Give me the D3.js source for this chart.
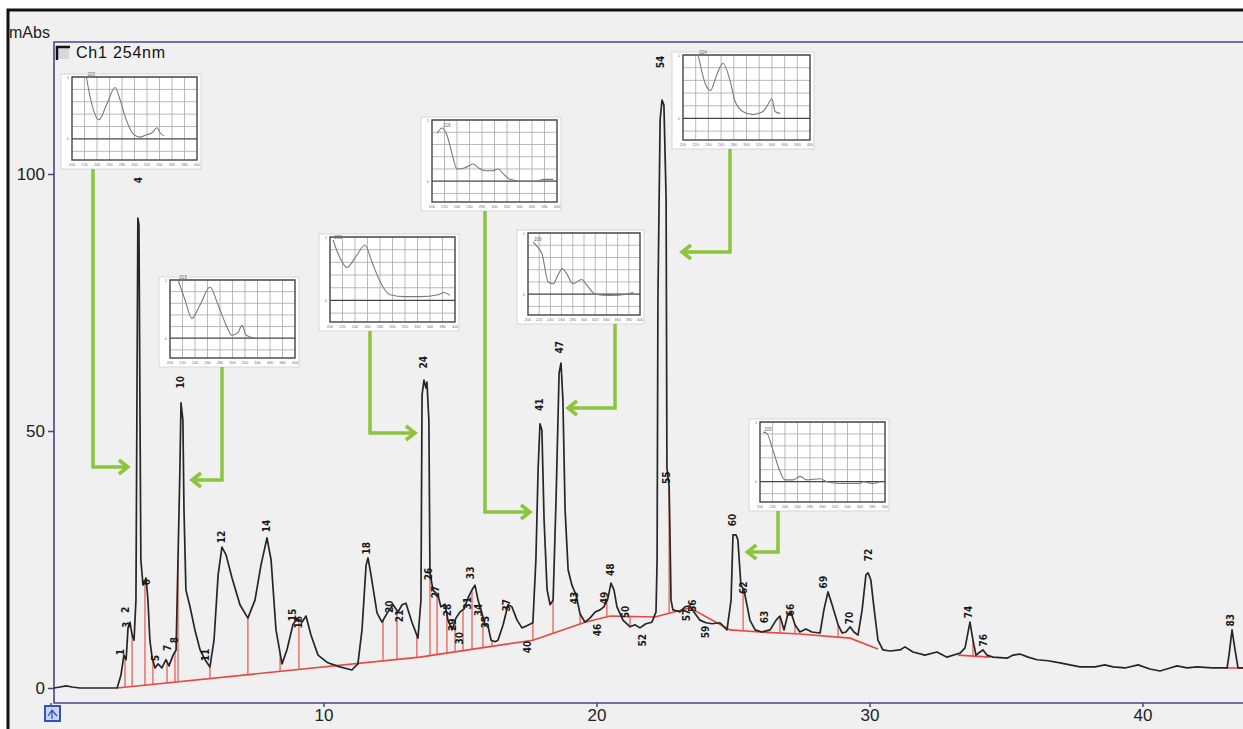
<!DOCTYPE html>
<html>
<head>
<meta charset="utf-8">
<script src="https://cdn.jsdelivr.net/npm/d3@7"></script>
<style>
  html, body { margin: 0; padding: 0; background: #fff; }
  svg { display: block; }
</style>
</head>
<body>
<div id="chart"></div>
<script>
// chromatogram, Ch1 254nm : [retention time (min), absorbance (mAbs)]
const trace = [
  [0.13,0],[0.35,0.2],[0.57,0.4],[0.79,0.2],[1.08,0],[1.81,0],[2.44,0],
  [2.58,2.5],[2.69,6.4],[2.77,5.5],[2.84,11.7],[2.91,12.8],[2.99,10.3],[3.06,9.3],[3.13,17.1],[3.20,91.4],[3.24,90.1],[3.28,52.1],[3.31,24.9],[3.39,20.0],[3.50,21.4],[3.57,17.1],[3.64,9.3],[3.72,6.0],[3.83,3.9],[3.94,4.7],[4.08,3.9],[4.23,5.5],[4.34,4.3],[4.49,6.4],[4.60,7.4],[4.67,24.9],[4.74,42.4],[4.78,55.5],[4.85,52.1],[4.89,34.6],[4.96,19.1],[5.11,15.8],[5.29,11.3],[5.48,7.4],[5.66,5.5],[5.84,4.1],
  [5.99,9.3],[6.14,22.0],[6.28,27.4],[6.43,25.9],[6.65,21.4],[6.94,16.2],[7.23,13.6],[7.49,17.1],[7.71,23.9],[7.93,29.2],[8.08,24.9],[8.26,11.3],[8.48,4.7],[8.66,7.4],[8.88,12.3],[9.03,13.6],[9.21,12.8],[9.36,14.0],[9.54,10.3],[9.80,6.4],[10.16,4.9],[10.60,4.1],[11.04,3.5],[11.26,4.7],[11.41,11.3],[11.56,23.9],[11.63,25.3],[11.74,22.0],[11.96,14.6],[12.14,12.8],[12.36,14.8],[12.55,16.2],[12.73,14.8],[12.88,16.2],[13.02,16.5],[13.24,12.8],[13.46,9.7],
  [13.57,17.1],[13.61,57.0],[13.68,59.9],[13.75,58.4],[13.79,59.5],[13.86,52.1],[13.90,22.4],[14.01,19.1],[14.19,18.1],[14.30,15.8],[14.45,16.3],[14.56,13.2],[14.71,11.3],[14.85,13.6],[15.00,14.8],[15.15,15.4],[15.29,17.5],[15.44,19.1],[15.55,20.0],[15.66,17.1],[15.77,15.2],[15.92,12.3],[16.03,11.9],[16.14,9.3],[16.28,9.0],[16.39,9.3],[16.58,12.3],[16.76,16.2],[16.90,15.8],[17.09,13.2],[17.27,11.7],[17.45,12.1],[17.67,12.7],
  [17.78,24.9],[17.86,42.4],[17.93,51.4],[18.00,50.2],[18.08,32.7],[18.19,19.1],[18.30,16.2],[18.41,17.1],[18.52,37.0],[18.63,61.3],[18.70,63.2],[18.77,56.0],[18.85,34.6],[18.96,23.0],[19.10,20.0],[19.25,18.1],[19.40,14.4],[19.58,12.8],[19.76,13.6],[19.95,14.8],[20.13,15.2],[20.27,15.8],[20.42,17.5],[20.53,20.4],[20.64,19.1],[20.75,15.8],[20.97,13.2],[21.23,11.9],[21.41,12.3],[21.59,11.7],[21.81,12.5],[22.03,12.8],[22.18,14.8],
  [22.22,24.9],[22.25,75.5],[22.33,110.5],[22.40,114.4],[22.47,113.4],[22.55,95.3],[22.58,42.8],[22.66,39.3],[22.69,30.4],[22.73,17.1],[22.80,15.2],[23.06,14.8],[23.24,15.8],[23.42,16.0],[23.57,14.8],[23.79,13.2],[24.01,12.7],[24.23,12.5],[24.52,12.7],[24.78,11.3],[24.93,17.1],[25.00,29.8],[25.11,29.8],[25.18,28.8],[25.29,20.0],[25.40,19.1],[25.51,16.2],[25.62,13.2],[25.81,11.3],[26.06,10.9],[26.36,11.3],[26.58,13.2],[26.72,14.0],[26.87,11.3],[27.01,14.4],[27.12,14.8],[27.27,12.3],[27.45,10.9],[27.67,11.5],[27.89,10.9],[28.19,10.7],[28.33,15.2],[28.48,18.7],[28.63,16.2],[28.85,12.3],[29.00,10.7],[29.14,10.9],[29.29,11.9],[29.43,10.9],[29.58,10.3],[29.73,15.2],[29.87,22.0],[29.95,22.4],[30.05,21.0],[30.16,15.8],[30.31,9.3],[30.49,7.4],
  [30.75,7.2],[31.12,7.4],[31.30,8.0],[31.59,7.0],[32.03,6.4],[32.47,7.0],[32.84,6.0],[33.32,6.8],[33.50,7.8],[33.68,12.8],[33.79,9.3],[33.90,6.4],[34.05,7.0],[34.16,7.4],[34.30,6.4],[34.52,6.0],[35.04,5.8],[35.26,6.4],[35.51,6.6],[35.81,6.0],[36.14,5.5],[36.54,5.3],[36.98,4.9],[37.34,4.5],[37.71,4.1],[38.26,4.1],[38.62,4.5],[38.92,4.1],[39.36,3.9],[39.84,4.5],[40.27,3.7],[40.64,3.3],[41.01,3.9],[41.26,4.3],[41.63,3.9],[42.00,4.1],[42.55,3.9],[43.10,3.9],[43.17,6.4],[43.28,11.3],[43.39,7.4],[43.50,3.9],[43.68,3.9]
];

// integration baselines (red)
const baselines = [
  [[2.44,0],[13.53,6.0],[17.67,9.3],[19.58,12.8],[20.50,14.0],[22.14,13.8],[23.42,15.6],[24.89,11.3],[25.99,10.9],[27.45,10.5],[29.29,9.7],[30.31,7.6]],
  [[33.24,6.4],[34.41,6.0]],
  [[43.02,3.9],[43.68,3.9]]
];

// peak split (drop) times
const dropTimes = [2.73, 2.99, 3.46, 3.75, 4.27, 4.56, 4.67, 5.84, 7.23, 8.41, 9.10, 12.18, 12.69, 13.42, 13.90, 14.16, 14.52, 14.82, 15.11, 15.44, 15.84, 16.17, 17.67, 18.41, 19.40, 20.38, 21.23, 22.66, 25.37, 26.72, 27.27, 28.85, 33.79];

// peak numbers : [label, time, mAbs where the label sits]
const peakLabels = [
  ['1',2.55,7.0],['2',2.73,15.2],['3',2.77,12.3],['4',3.21,98.8],['6',3.53,20.6],['5',3.83,5.8],['7',4.30,7.8],['8',4.56,9.3],
  ['10',4.78,59.5],['11',5.66,6.4],['12',6.28,29.4],['14',7.93,31.5],['15',8.88,14.2],['16',9.07,12.8],['18',11.56,27.2],
  ['20',12.43,15.8],['21',12.80,14.0],['24',13.68,63.4],['26',13.83,22.2],['27',14.12,18.7],['28',14.56,15.2],['29',14.71,12.3],
  ['30',15.0,9.7],['31',15.26,16.5],['33',15.40,22.4],['34',15.66,15.2],['35',15.92,12.8],['37',16.72,16.1],['40',17.49,8.0],
  ['41',17.93,55.1],['47',18.66,66.3],['43',19.18,17.5],['46',20.02,11.3],['49',20.28,17.5],['48',20.53,23.0],['50',21.08,14.8],
  ['52',21.70,9.3],['54',22.36,121.8],['55',22.55,40.9],['57',23.28,14.2],['56',23.50,16.0],['59',24.01,10.9],['60',25.0,32.7],
  ['62',25.40,19.5],['63',26.14,13.8],['66',27.12,15.2],['69',28.33,20.6],['70',29.25,13.6],['72',29.95,25.9],
  ['74',33.61,14.8],['76',34.16,9.3],['83',43.21,13.2]
];

const xTicks = [0, 10, 20, 30, 40];
const yTicks = [0, 50, 100];

// UV spectra of the marked peaks : [wavelength (nm), relative abs]
const spec4  = [[223,1.0],[229,0.68],[243,0.31],[256,0.57],[269,0.83],[277,0.63],[285,0.36],[299,0.07],[309,0.03],[320,0.07],[328,0.10],[336,0.18],[341,0.10],[347,0.05]];
const spec10 = [[213,1.0],[224,0.66],[235,0.34],[248,0.57],[264,0.88],[277,0.57],[290,0.22],[299,0.05],[309,0.10],[315,0.22],[322,0.05],[336,0.0]];
const spec24 = [[205,0.95],[216,0.67],[227,0.52],[242,0.70],[256,0.875],[267,0.61],[280,0.30],[296,0.09],[320,0.06],[344,0.06],[373,0.09],[382,0.125],[392,0.08]];
const spec41 = [[208,0.78],[216,0.87],[224,0.75],[232,0.45],[240,0.20],[253,0.22],[266,0.28],[274,0.22],[285,0.17],[296,0.17],[306,0.20],[314,0.12],[325,0.03],[341,0.0],[368,0.0],[378,0.03],[394,0.03]];
const spec47 = [[209,0.85],[218,0.76],[225,0.66],[236,0.20],[245,0.17],[254,0.32],[261,0.42],[270,0.32],[280,0.17],[296,0.24],[305,0.15],[320,0.0],[346,-0.02],[377,0.0],[388,0.03]];
const spec54 = [[224,1.0],[235,0.55],[243,0.44],[254,0.71],[263,0.87],[274,0.60],[282,0.27],[294,0.11],[310,0.06],[326,0.11],[332,0.19],[340,0.31],[345,0.11],[353,0.08]];
const spec60 = [[205,0.83],[211,0.81],[221,0.52],[232,0.17],[240,0.03],[253,0.03],[264,0.09],[275,0.03],[296,0.05],[307,0.0],[328,-0.03],[360,-0.03],[365,0.0],[381,-0.03],[392,0.0]];
const wlTicks = [200, 220, 240, 260, 280, 300, 320, 340, 360, 380, 400];
const absTicks = [-0.2, 0, 0.2, 0.4, 0.6, 0.8, 1.0];

// where the spectrum boxes sit on the page and which peak they point at
const insets = [
  { peak: 3.20,  spec: spec4,  box: [72, 77, 125, 83],  stem: 93,  elbow: 467, dir: -1, gap: 10 },
  { peak: 4.78,  spec: spec10, box: [170, 280, 125, 78], stem: 222, elbow: 480, dir: 1,  gap: 11 },
  { peak: 13.68, spec: spec24, box: [330, 237, 125, 85], stem: 370, elbow: 433, dir: -1, gap: 9 },
  { peak: 17.93, spec: spec41, box: [432, 120, 125, 82], stem: 485, elbow: 512, dir: -1, gap: 10 },
  { peak: 18.70, spec: spec47, box: [528, 233, 112, 82], stem: 615, elbow: 408, dir: 1,  gap: 7 },
  { peak: 22.40, spec: spec54, box: [683, 55, 127, 85],  stem: 730, elbow: 252, dir: 1,  gap: 20 },
  { peak: 25.05, spec: spec60, box: [760, 422, 125, 80], stem: 778, elbow: 552, dir: 1,  gap: 13 }
];

const width = 1243;
const height = 729;
const plot = { left: 54, top: 42, right: 1243, bottom: 703 };
const axisColor = '#45458a';
const green = '#8cc43c';
const font = '"Liberation Sans", Arial, sans-serif';

const svg = d3.select('#chart').append('svg')
  .attr('width', width)
  .attr('height', height)
  .style('font-family', font);

const x = d3.scaleLinear().domain([0, 43.7]).range([50.5, 1243.5]);
const y = d3.scaleLinear().domain([0, 100]).range([688, 174]);

// window background + frame
svg.append('rect').attr('width', width).attr('height', height).attr('fill', '#fff');
svg.append('rect').attr('x', 8).attr('y', 10).attr('width', width - 8).attr('height', height - 10).attr('fill', '#f0f0f0');
svg.append('path').attr('d', `M8,${height}V10H${width}`).attr('fill', 'none').attr('stroke', '#111').attr('stroke-width', 3);

svg.append('text').attr('x', 9).attr('y', 38).attr('font-size', 16).attr('fill', '#222').text('mAbs');

// axes lines
svg.append('path')
  .attr('d', `M${plot.right},${plot.top}H${plot.left}V${plot.bottom}H${plot.right}`)
  .attr('fill', 'none').attr('stroke', axisColor).attr('stroke-width', 1.6);

const yAxis = d3.axisLeft(y).tickValues(yTicks).tickSize(6).tickPadding(3);
svg.append('g').attr('transform', `translate(${plot.left},0)`).call(yAxis)
  .call(g => g.select('.domain').remove())
  .call(g => g.selectAll('line').attr('stroke', axisColor).attr('stroke-width', 1.5))
  .call(g => g.selectAll('text').attr('font-size', 17).attr('fill', '#222').attr('font-family', font));

const xAxis = d3.axisBottom(x).tickValues(xTicks).tickSize(4).tickPadding(2);
svg.append('g').attr('transform', `translate(0,${plot.bottom})`).call(xAxis)
  .call(g => g.select('.domain').remove())
  .call(g => g.selectAll('line').attr('stroke', axisColor).attr('stroke-width', 1.5))
  .call(g => g.selectAll('text').attr('font-size', 17).attr('fill', '#222').attr('font-family', font));

// legend
svg.append('rect').attr('x', 57).attr('y', 47).attr('width', 12).attr('height', 12).attr('fill', '#d8d8d8');
svg.append('path').attr('d', 'M57,60V47H70').attr('fill', 'none').attr('stroke', '#111').attr('stroke-width', 2.5);
svg.append('text').attr('x', 76).attr('y', 58).attr('font-size', 16).attr('letter-spacing', 0.8)
  .attr('fill', '#111').text('Ch1 254nm');

function interp(series, t) {
  const i = d3.bisector(d => d[0]).left(series, t);
  if (i <= 0) return series[0][1];
  if (i >= series.length) return series[series.length - 1][1];
  const a = series[i - 1], b = series[i];
  return a[1] + (b[1] - a[1]) * (t - a[0]) / (b[0] - a[0]);
}

const line = d3.line().x(d => x(d[0])).y(d => y(d[1]));

// baselines and drop lines
const red = svg.append('g').attr('stroke', '#e8483f').attr('fill', 'none');
red.selectAll('path').data(baselines).join('path')
  .attr('d', line).attr('stroke-width', 1.6);
red.selectAll('line').data(dropTimes).join('line')
  .attr('x1', d => x(d)).attr('x2', d => x(d))
  .attr('y1', d => {
    const seg = baselines.find(s => d >= s[0][0] && d <= s[s.length - 1][0]);
    return y(interp(seg, d));
  })
  .attr('y2', d => y(interp(trace, d)))
  .attr('stroke-width', 1.4)
  .attr('stroke-opacity', 0.8);

// chromatogram
svg.append('path').datum(trace)
  .attr('d', line)
  .attr('fill', 'none')
  .attr('stroke', '#262626')
  .attr('stroke-width', 1.7)
  .attr('stroke-linejoin', 'round');

// peak numbers
svg.append('g').selectAll('text').data(peakLabels).join('text')
  .attr('transform', d => `translate(${x(d[1])},${y(d[2])}) rotate(-90)`)
  .attr('text-anchor', 'middle')
  .attr('dominant-baseline', 'central')
  .attr('font-family', '"DejaVu Sans Condensed", "DejaVu Sans", sans-serif')
  .attr('font-weight', 'bold')
  .attr('font-size', 10)
  .attr('fill', '#1a1a1a')
  .text(d => d[0]);

// spectrum insets
insets.forEach(ins => {
  const [bx, by, bw, bh] = ins.box;
  const g = svg.append('g');
  const sx = d3.scaleLinear().domain([200, 400]).range([bx, bx + bw]);
  const sy = d3.scaleLinear().domain([-0.34, 1.0]).range([by + bh, by]);

  g.append('rect').attr('x', bx - 11).attr('y', by - 3).attr('width', bw + 15).attr('height', bh + 12)
    .attr('fill', '#fff').attr('stroke', '#d6d6d6').attr('stroke-width', 1);

  g.selectAll('.vg').data(wlTicks.slice(1, -1)).join('line').attr('class', 'vg')
    .attr('x1', d => sx(d)).attr('x2', d => sx(d)).attr('y1', by).attr('y2', by + bh)
    .attr('stroke', '#a8a8a8').attr('stroke-width', 0.8);
  g.selectAll('.hg').data(absTicks).join('line').attr('class', 'hg')
    .attr('x1', bx).attr('x2', bx + bw).attr('y1', d => sy(d)).attr('y2', d => sy(d))
    .attr('stroke', d => d === 0 ? '#444' : '#a8a8a8')
    .attr('stroke-width', d => d === 0 ? 1.3 : 0.8);
  g.append('rect').attr('x', bx).attr('y', by).attr('width', bw).attr('height', bh)
    .attr('fill', 'none').attr('stroke', '#444').attr('stroke-width', 1.4);

  g.selectAll('.wl').data(wlTicks).join('text').attr('class', 'wl')
    .attr('x', d => sx(d)).attr('y', by + bh + 6)
    .attr('text-anchor', 'middle').attr('font-size', 4).attr('fill', '#777').text(d => d);
  g.selectAll('.ab').data([0, 1]).join('text').attr('class', 'ab')
    .attr('x', bx - 3).attr('y', d => sy(d) + 1.5)
    .attr('text-anchor', 'end').attr('font-size', 4).attr('fill', '#777').text(d => d);

  const sline = d3.line().x(d => sx(d[0])).y(d => sy(d[1])).curve(d3.curveMonotoneX);
  g.append('path').datum(ins.spec).attr('d', sline)
    .attr('fill', 'none').attr('stroke', '#7a7a7a').attr('stroke-width', 1.1);
  const top = d3.greatest(ins.spec, d => d[1]);
  g.append('text').attr('x', sx(top[0]) + 1).attr('y', sy(top[1]) - 1)
    .attr('font-size', 4.5).attr('fill', '#666').text(top[0]);

  // green pointer to the peak
  const tip = x(ins.peak) + ins.dir * ins.gap;
  const back = tip - Math.sign(tip - ins.stem) * 9;
  svg.append('path')
    .attr('d', `M${ins.stem},${by + bh + 9}V${ins.elbow}H${tip}`)
    .attr('fill', 'none').attr('stroke', green).attr('stroke-width', 3.5);
  svg.append('path')
    .attr('d', `M${back},${ins.elbow - 7}L${tip},${ins.elbow}L${back},${ins.elbow + 7}`)
    .attr('fill', 'none').attr('stroke', green).attr('stroke-width', 3.5)
    .attr('stroke-linejoin', 'miter');
});

// zoom reset icon, bottom-left corner
svg.append('rect').attr('x', 45).attr('y', 706).attr('width', 15).attr('height', 15)
  .attr('fill', '#c9d6f2').attr('stroke', '#2f52c0').attr('stroke-width', 2);
svg.append('path').attr('d', 'M48,716L52,710L57,716M52,710V719')
  .attr('fill', 'none').attr('stroke', '#2f52c0').attr('stroke-width', 1.3);
</script>
</body>
</html>
